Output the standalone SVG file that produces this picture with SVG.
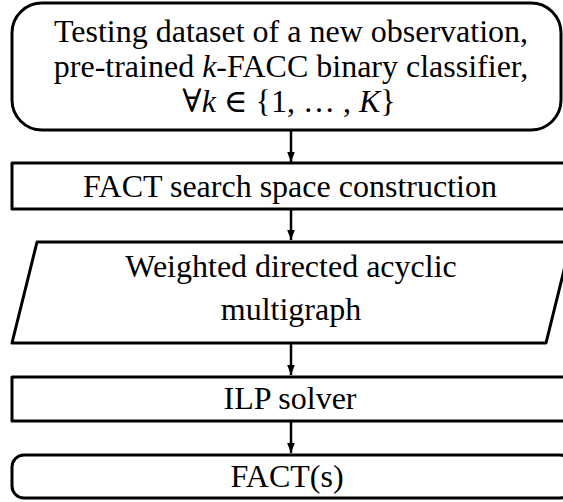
<svg xmlns="http://www.w3.org/2000/svg" width="563" height="502" viewBox="0 0 563 502">
  <style>
    .shape { fill: #ffffff; stroke: #000000; stroke-width: 3; stroke-linejoin: round; }
    .label { font-family: "Liberation Serif", "Times New Roman", serif; font-size: 32px; fill: #000000; text-anchor: middle; }
    .math { font-family: "Liberation Serif", "DejaVu Serif", serif; }
    .conn { stroke: #000000; stroke-width: 2.5; fill: none; marker-end: url(#arrow); }
  </style>
  <defs>
    <marker id="arrow" viewBox="0 0 10 10" refX="10" refY="5" markerWidth="4" markerHeight="4" markerUnits="strokeWidth" orient="auto">
      <path d="M0,1.2 L10,5 L0,8.8 z" fill="#000000"/>
    </marker>
  </defs>
  <rect width="563" height="502" fill="#ffffff"/>

  <g id="connectors">
    <line class="conn" x1="291" y1="131" x2="291" y2="162"/>
    <line class="conn" x1="291" y1="209" x2="291" y2="240"/>
    <line class="conn" x1="291" y1="344" x2="291" y2="375"/>
    <line class="conn" x1="291" y1="422" x2="291" y2="453"/>
  </g>

  <g id="input">
    <rect class="shape" x="12" y="3" width="549" height="127" rx="30" ry="30"/>
    <text class="label" x="291" y="42">Testing dataset of a new observation,</text>
    <text class="label" x="291" y="77">pre-trained <tspan font-style="italic">k</tspan>-FACC binary classifier,</text>
    <text class="label math" x="289" y="112">∀<tspan font-style="italic">k</tspan> ∈ {1, … , <tspan font-style="italic">K</tspan>}</text>
  </g>

  <g id="search-space">
    <rect class="shape" x="12" y="163" width="560" height="46"/>
    <text class="label" x="290" y="197">FACT search space construction</text>
  </g>

  <g id="multigraph">
    <polygon class="shape" points="37,242 571,242 546,343 12,343"/>
    <text class="label" x="291" y="277">Weighted directed acyclic</text>
    <text class="label" x="291" y="320">multigraph</text>
  </g>

  <g id="ilp-solver">
    <rect class="shape" x="12" y="377" width="560" height="44"/>
    <text class="label" x="290" y="409">ILP solver</text>
  </g>

  <g id="facts">
    <rect class="shape" x="12" y="455" width="560" height="43" rx="12" ry="12"/>
    <text class="label" x="287" y="487">FACT(s)</text>
  </g>
</svg>
